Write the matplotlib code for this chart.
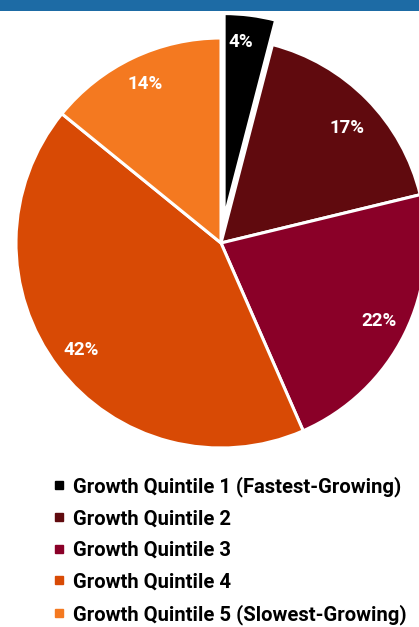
import matplotlib
matplotlib.use("Agg")
import matplotlib.pyplot as plt
from matplotlib.patches import Rectangle
from matplotlib.lines import Line2D

categories = ["Growth Quintile 1 (Fastest-Growing)", "Growth Quintile 2",
              "Growth Quintile 3", "Growth Quintile 4",
              "Growth Quintile 5 (Slowest-Growing)"]
values = [4, 17, 22, 42, 14]
colors = ["#000000", "#600A0E", "#8A0028", "#D84A05", "#F47920"]
explode = [0.12, 0, 0, 0, 0]

W, H = 419, 627
fig = plt.figure(figsize=(W / 100, H / 100), dpi=100)
fig.patches.append(Rectangle((0, 1 - 10.5 / H), 1, 10.5 / H, transform=fig.transFigure,
                             facecolor="#1D6BA5", edgecolor="none"))

cx, cy, r = 221, 243, 205
ax = fig.add_axes([(cx - r) / W, (H - cy - r) / H, 2 * r / W, 2 * r / H])

labels = [f"{v}%" for v in values]
wedges, texts = ax.pie(values, colors=colors, explode=explode, startangle=90,
                       counterclock=False, radius=1, labels=labels, labeldistance=0.86,
                       wedgeprops=dict(edgecolor="white", linewidth=2.2),
                       textprops=dict(color="white", fontsize=13.5, fontweight="bold",
                                      family="Roboto", ha="center", va="center"))
ax.set_xlim(-1, 1)
ax.set_ylim(-1, 1)
ax.set_aspect("equal")
ax.axis("off")
for w in wedges:
    w.set_clip_on(False)
x0, y0 = texts[0].get_position()
texts[0].set_position((x0 - 0.03, y0 + 0.01))
x1, y1 = texts[1].get_position()
texts[1].set_position((x1, y1 - 0.04))

handles = [Line2D([], [], marker="s", linestyle="none", markersize=5.5,
                  markerfacecolor=c, markeredgecolor=c) for c in colors]
fig.legend(handles, categories, loc="upper left", bbox_to_anchor=(54 / W, 1 - 476 / H),
           frameon=False, handlelength=0.45, handletextpad=0.5, labelspacing=0.62,
           prop=dict(family="Roboto", weight="bold", size=14.6), borderpad=0,
           borderaxespad=0)

fig.savefig("out.png", dpi=100)
